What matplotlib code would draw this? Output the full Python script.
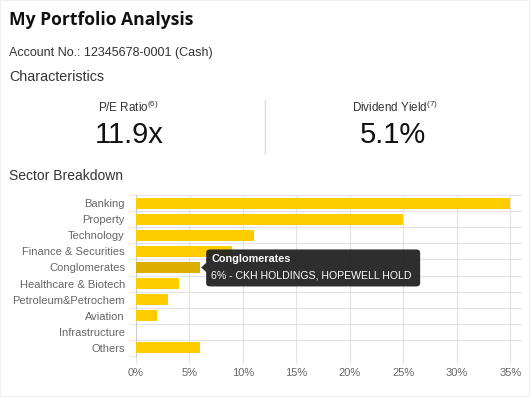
import matplotlib
matplotlib.use('Agg')
import matplotlib.pyplot as plt
from matplotlib.patches import FancyBboxPatch, Polygon, Rectangle

sectors = ['Banking', 'Property', 'Technology', 'Finance & Securities', 'Conglomerates',
           'Healthcare & Biotech', 'Petroleum&Petrochem', 'Aviation', 'Infrastructure', 'Others']
weights = [35, 25, 11, 9, 6, 4, 3, 2, 0, 6]
xticks = [0, 5, 10, 15, 20, 25, 30, 35]
highlight = 'Conglomerates'
highlight_holdings = 'CKH HOLDINGS, HOPEWELL HOLD'
pe_ratio = 11.9
div_yield = 5.1

W, H = 530, 397
plt.rcParams['font.family'] = ['Liberation Sans', 'DejaVu Sans']
plt.rcParams['mathtext.fontset'] = 'custom'
plt.rcParams['mathtext.rm'] = 'Liberation Sans'

fig = plt.figure(figsize=(W/100, H/100), dpi=100)
fig.patch.set_facecolor('white')

def px(x, y):
	return x/W, 1 - y/H

# card border
fig.patches.append(Rectangle((0, 0), 1, 1, transform=fig.transFigure, fill=False,
	edgecolor='#efefef', lw=1.5))

fig.text(*px(9, 20), 'My Portfolio Analysis', fontsize=12.6, fontweight='bold',
	family=['Open Sans', 'DejaVu Sans'], color='#111111', va='center')
fig.text(*px(9, 53), 'Account No.: 12345678-0001 (Cash)', fontsize=9, color='#333333', va='center')
fig.text(*px(9, 77), 'Characteristics', fontsize=10.3, color='#333333', va='center')
fig.text(*px(9, 176), 'Sector Breakdown', fontsize=10, color='#333333', va='center')

fig.text(*px(128, 107), r'P/E Ratio$^{(6)}$', fontsize=8.4, color='#333333', ha='center', va='center')
fig.text(*px(129, 135), f'{pe_ratio}x', fontsize=21, color='#111111', ha='center', va='center')
fig.text(*px(395, 107), r'Dividend Yield$^{(7)}$', fontsize=8.4, color='#333333', ha='center', va='center')
fig.text(*px(393, 135), f'{div_yield}%', fontsize=21, color='#111111', ha='center', va='center')
fig.add_artist(plt.Line2D([265/W, 265/W], [1-100/H, 1-153/H], color='#dddddd', lw=1))

ax = fig.add_axes([136/W, 1-356/H, 386/W, 161/H])
colors = ['#dcaf00' if s == highlight else '#ffcc00' for s in sectors]
ypos = list(range(len(sectors)))
ax.barh(ypos, weights, height=0.68, color=colors, zorder=3)
ax.set_xlim(0, 36.1)
ax.set_ylim(len(sectors) - 0.5, -0.5)
ax.set_yticks(ypos)
ax.set_yticklabels(sectors, fontsize=8, color='#666666')
ax.set_xticks(xticks)
ax.set_xticklabels([f'{t}%' for t in xticks], fontsize=8, color='#666666')
ax.set_yticks([i - 0.5 for i in range(len(sectors) + 1)], minor=True)
ax.grid(True, axis='x', color='#e3e3e3', lw=0.8, zorder=0)
ax.grid(True, axis='y', which='minor', color='#e3e3e3', lw=0.8, zorder=0)
ax.tick_params(axis='y', which='major', length=0, pad=8)
ax.tick_params(axis='y', which='minor', length=5, color='#e3e3e3')
ax.tick_params(axis='x', length=5, color='#e3e3e3', pad=4)
for s in ['top', 'right', 'bottom']:
	ax.spines[s].set_visible(False)
ax.spines['left'].set_color('#cccccc')

# tooltip
i = sectors.index(highlight)
fig.canvas.draw()
ax_x, ax_y = ax.transData.transform((weights[i], i))
tx, ty = ax_x, H - ax_y
bx0, by0, bw, bh = tx + 6, ty - 18, 214, 37
fig.patches.append(FancyBboxPatch(px(bx0, by0 + bh), bw/W, bh/H,
	boxstyle='round,pad=0,rounding_size=0.008', transform=fig.transFigure,
	facecolor='#222222', edgecolor='none', alpha=0.95, zorder=10))
fig.patches.append(Polygon([px(tx + 1, ty), px(bx0 + 0.5, ty - 5), px(bx0 + 0.5, ty + 5)],
	closed=True, transform=fig.transFigure, facecolor='#222222', edgecolor='none', alpha=0.95, zorder=10))
fig.text(*px(bx0 + 5, ty - 8), highlight, fontsize=7.8, fontweight='bold', color='white', va='center', zorder=11)
fig.text(*px(bx0 + 5, ty + 8), f'{weights[i]}% - {highlight_holdings}', fontsize=7.6,
	color='white', va='center', zorder=11)

plt.savefig('out.png', dpi=100)
